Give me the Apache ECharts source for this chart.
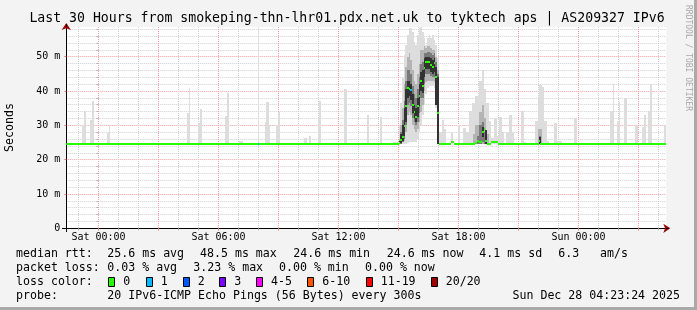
<!DOCTYPE html>
<html><head><meta charset="utf-8">
<script src="https://cdn.jsdelivr.net/npm/echarts@6/dist/echarts.min.js"></script>
<style>html,body{margin:0;padding:0;background:#f3f3f3;}#c{width:697px;height:310px;}</style>
</head><body><div id="c"></div>
<script>
// ---------------- DATA (hours relative to Sat 00:00, values in ms) ----------------
const timeRange = [-1.61, 28.39];
const valueMax = 58.65;
const hourTicks = [-1,0,1,2,3,4,5,6,7,8,9,10,11,12,13,14,15,16,17,18,19,20,21,22,23,24,25,26,27,28];
const majorHourTicks = [0,3,6,9,12,15,18,21,24,27];
const labelHours = [0,6,12,18,24];
const labelTexts = ['Sat 00:00','Sat 06:00','Sat 12:00','Sat 18:00','Sun 00:00'];
const yMajorTicks = [0,10,20,30,40,50];
const yTickLabels = ['0','10 m','20 m','30 m','40 m','50 m'];
const yMinorTicks = [2,4,6,8,12,14,16,18,22,24,26,28,32,34,36,38,42,44,46,48,52,54,56,58];

// light smoke spikes: [start h, end h, low ms, high ms]
const lightSmoke = [
 [-0.83,-0.71,24.5,30.1],[-0.71,-0.63,24.5,34.2],[-0.42,-0.33,24.5,31.5],[-0.33,-0.23,24.5,37.1],
 [0.41,0.51,24.5,27.7],[0.51,0.56,24.5,30.1],[4.41,4.54,24.5,33.7],[4.54,4.59,24.5,41.0],
 [4.99,5.08,24.5,30.6],[5.08,5.18,24.5,34.8],[6.33,6.44,24.5,32.8],[6.44,6.54,24.5,39.5],
 [7.04,7.24,24.5,25.3],[7.96,8.04,24.5,58.6],[8.30,8.38,24.5,31.0],[8.38,8.51,24.5,36.9],
 [8.51,8.58,24.5,30.0],[8.88,8.98,24.5,30.1],[8.98,9.08,24.5,33.8],[10.29,10.41,24.5,26.3],
 [10.54,10.63,24.5,26.8],[10.96,11.04,24.5,32.1],[11.04,11.13,24.5,37.0],[12.29,12.41,24.5,40.6],
 [13.43,13.54,24.5,33.0],[14.08,14.18,24.5,32.5],[14.71,15.00,24.5,25.2],
 [17.00,17.16,24.5,28.0],[17.16,17.29,24.5,31.5],[17.29,17.38,24.5,29.0],[17.63,17.71,24.5,28.2],
 [17.96,18.08,24.5,30.0],[18.21,18.38,24.5,29.2],[18.38,18.54,24.5,28.0],[18.54,18.68,24.5,34.3],
 [18.68,18.84,24.5,36.6],[18.84,19.01,24.5,38.5],[19.01,19.18,24.5,42.9],[19.18,19.29,24.5,46.1],
 [19.29,19.38,24.5,40.6],[19.38,19.51,24.5,36.6],[19.51,19.63,24.5,31.2],[19.63,19.79,24.5,26.4],
 [19.79,19.91,24.5,32.1],[19.91,20.04,24.5,27.0],[20.04,20.18,24.5,32.5],[20.18,20.29,24.5,28.0],
 [20.38,20.54,24.5,28.2],[20.54,20.68,24.5,33.0],[20.68,20.79,24.5,28.2],[21.13,21.29,24.5,34.2],
 [21.29,21.38,24.5,25.2],[21.83,21.96,24.5,31.2],[21.96,22.04,24.5,37.4],[22.04,22.18,24.5,41.8],
 [22.18,22.29,24.5,41.3],[22.29,22.41,24.5,31.2],[22.41,22.54,24.5,25.5],[22.79,22.91,24.5,30.6],
 [22.91,23.18,24.5,25.5],[23.79,23.91,24.5,32.1],[25.58,25.71,24.5,34.2],[25.71,25.79,24.5,42.0],
 [25.91,26.01,24.5,31.2],[26.01,26.08,24.5,36.7],[26.29,26.41,24.5,38.1],[26.84,26.96,24.5,30.1],
 [27.18,27.29,24.5,29.6],[27.29,27.38,24.5,33.0],[27.49,27.58,24.5,34.2],[27.58,27.68,24.5,42.0],
 [28.29,28.38,24.5,30.1]
];
// denser smoke patches outside the main event
const midSmoke = [[18.71,18.84,24.5,27.5],[18.84,19.01,24.5,30],[19.01,19.18,24.5,34],[19.18,19.29,24.5,36],[19.29,19.38,24.5,32],[19.38,19.54,24.5,27.5],[21.96,22.18,24.5,29]];
const darkSmoke = [[18.92,19.01,24.5,27],[19.01,19.18,24.6,30],[19.18,19.29,25,31],[19.29,19.38,24.6,28],[22.0,22.1,24.5,27]];
const darkestSmoke = [[19.17,19.25,26.5,29.5],[19.33,19.42,24.6,28.5],[22.04,22.12,24.6,26.5]];

// main event, 5-minute steps starting Sat 15:00
const eventStart = 15.0;
const eventStep = 1/12;
const eventMedian = [24.9,25.6,26.7,29.9,35.5,40.8,40.7,40.4,35.8,33.8,32.5,35.5,38.6,42.9,41.6,46.8,48.5,48.5,48.5,47.6,47.1,48.1,44.2,33.5];
const eventLoss   = [0,0,0,0,0,0,0,1,0,0,0,0,0,0,0,0,0,0,0,0,0,0,0,0];
const eventOuter = [[24.5,30],[24.5,36.5],[24.5,43.7],[24.5,50.5],[24.6,53.5],[24.8,56.4],[25,58.3],[25,58.3],[25,57.3],[25,54.4],[25,53.5],[26,56.4],[28,58.3],[30,58.6],[33,57.3],[36,55.5],[39,53.5],[41,55.5],[41.5,56.4],[41.5,55.5],[41.5,56.4],[41,55],[35,53.5],[24.6,49.6]];
const eventMid = [[24.6,26],[24.6,30],[25,35],[25.5,42],[28,47],[33,50],[34,51],[33,49],[30,46],[29,43],[28,42],[29,45],[31,48],[34,52],[36,52],[40,53],[42.5,52.5],[43,53],[43,53],[43,52.5],[43,52],[42.5,52],[37,50],[25,46]];
const eventDark = [[24.6,25.5],[24.6,28],[25,31.5],[26,37],[30,43],[36,46],[36.5,46],[35.5,45],[32,41.5],[31,39],[30,38],[31,40.5],[33.5,44],[38,48],[38,48.5],[42,51],[45,51],[45,51.5],[45,51.5],[44.5,51],[44,50.5],[44,51],[36,48.5],[24.6,45]];
const eventCore = [[24.6,25.5],[24.8,27.5],[25.5,30],[27,35],[31,40.5],[38,43],[38.5,43],[37.5,42],[33.5,39],[32,36],[31,35],[32.5,38],[35.5,42],[40,45.5],[39.5,46],[44,49.5],[46.5,50],[46.5,50],[46.5,50],[45.5,49.5],[45,49],[45.5,49.5],[36,47],[24.6,44]];

// median segments outside the event: [start h, end h, median ms, loss level]
const medianSegments = [
 [-1.61,7.96,24.6,0],[7.96,8.04,24.6,1],[8.04,15.0,24.6,0],
 [17.0,17.63,24.6,0],[17.63,17.77,25.2,0],[17.77,18.83,24.6,0],
 [18.83,18.92,24.9,0],[18.92,19.0,25.4,0],[19.0,19.17,25.0,0],[19.17,19.25,28.0,0],[19.25,19.33,29.0,0],[19.33,19.42,25.3,0],
 [19.42,19.6,24.6,0],[19.6,19.96,25.2,0],[19.96,22.0,24.6,0],[22.0,22.08,25.3,0],[22.08,28.39,24.6,0]
];

const lossLabels = ['0','1','2','3','4-5','6-10','11-19','20/20'];
const lossColors = ['#26ff00','#00b8ff','#0059ff','#7e00ff','#ff00ff','#ff5500','#ff0000','#a00000'];

const titleText = 'Last 30 Hours from smokeping-thn-lhr01.pdx.net.uk to tyktech aps | AS209327 IPv6';
const rttStats = ['25.6 ms avg','48.5 ms max','24.6 ms min','24.6 ms now','4.1 ms sd','6.3','am/s'];
const lossStats = ['0.03 % avg','3.23 % max','0.00 % min','0.00 % now'];
const probeText = '20 IPv6-ICMP Echo Pings (56 Bytes) every 300s';
const dateText = 'Sun Dec 28 04:23:24 2025';

// ---------------- BUILD ----------------
function stepsToRects(arr){ return arr.map((p,k)=>[eventStart+k*eventStep, eventStart+(k+1)*eventStep, p[0], p[1]]); }
const eventMedianRects = eventMedian.map((v,k)=>[eventStart+k*eventStep, eventStart+(k+1)*eventStep, v, eventLoss[k]]);
const allMedian = medianSegments.concat(eventMedianRects);

function smokeRender(color){
  return function(params, api){
    const a = api.coord([api.value(0), api.value(3)]);
    const b = api.coord([api.value(1), api.value(2)]);
    const x0 = Math.round(a[0]), x1 = Math.max(Math.round(b[0]), x0+1);
    const y0 = Math.round(a[1]), y1 = Math.round(b[1]);
    const cs = params.coordSys;
    const shape = echarts.graphic.clipRectByRect({x:x0,y:y0,width:x1-x0,height:y1-y0},{x:cs.x,y:cs.y,width:cs.width,height:cs.height});
    return shape && {type:'rect', shape:shape, style:{fill:color}};
  };
}
function medianRender(params, api){
  const a = api.coord([api.value(0), api.value(2)]);
  const b = api.coord([api.value(1), api.value(2)]);
  const x0 = Math.round(a[0]), x1 = Math.max(Math.round(b[0]), x0+1);
  const yc = Math.round(a[1]);
  const cs = params.coordSys;
  const shape = echarts.graphic.clipRectByRect({x:x0,y:yc-1,width:x1-x0,height:2},{x:cs.x,y:cs.y,width:cs.width,height:cs.height});
  return shape && {type:'rect', shape:shape, style:{fill: lossColors[api.value(3)]}};
}
function smokeSeries(data, color){
  return {type:'custom', xAxisIndex:0, yAxisIndex:0, data:data, renderItem:smokeRender(color), silent:true, clip:true};
}

const MONO = '"DejaVu Sans Mono", monospace';
const xBase = {type:'value', min:timeRange[0], max:timeRange[1], gridIndex:0, position:'bottom', offset:0};
const yBase = {type:'value', min:0, max:valueMax, gridIndex:0, position:'left', offset:0};

const graphics = [];
function txt(x, y, s, size, opts){
  graphics.push(Object.assign({type:'text', x:x, y:y, silent:true, style:Object.assign({text:s, fontFamily:MONO, fontSize:size, fill:'#000', align:'left', verticalAlign:'middle'}, (opts&&opts.style)||{})}, (opts&&opts.el)||{}));
}
// frame
graphics.push({type:'rect', shape:{x:694,y:0,width:3,height:310}, style:{fill:'#a9a9a9'}, silent:true});
graphics.push({type:'rect', shape:{x:0,y:307,width:697,height:3}, style:{fill:'#a9a9a9'}, silent:true});
// axis line extensions (the "+" at the origin and the run-out to the arrow)
graphics.push({type:'line', shape:{x1:62,y1:228.5,x2:66,y2:228.5}, style:{stroke:'#000',lineWidth:1}, silent:true, z:10});
graphics.push({type:'line', shape:{x1:66.5,y1:228,x2:66.5,y2:232}, style:{stroke:'#000',lineWidth:1}, silent:true, z:10});
graphics.push({type:'line', shape:{x1:666,y1:228.5,x2:669,y2:228.5}, style:{stroke:'#000',lineWidth:1}, silent:true, z:10});
graphics.push({type:'line', shape:{x1:66.5,y1:27,x2:66.5,y2:24}, style:{stroke:'#000',lineWidth:1}, silent:true, z:10});
txt(347, 19, titleText, 13.2, {style:{align:'center'}});
txt(10, 127.5, 'Seconds', 11.6, {style:{align:'center'}, el:{rotation:Math.PI/2}});
txt(688, 5, 'RRDTOOL / TOBI OETIKER', 8, {style:{fill:'#a8a8a8', align:'left'}, el:{rotation:-Math.PI/2}});
const LF = 11.6;
txt(16, 254.3, 'median rtt:', LF);
[107.3,200,293.3,386.7,479.3,558.3,600].forEach((x,i)=>txt(x,254.3,rttStats[i],LF));
txt(16, 268.3, 'packet loss:', LF);
[107.3,193.3,279,365].forEach((x,i)=>txt(x,268.3,lossStats[i],LF));
txt(16, 282.3, 'loss color:', LF);
const boxX = [108.3,145.7,182.7,219.3,256,307.3,365.7,430.7];
lossLabels.forEach((l,i)=>{
  graphics.push({type:'rect', shape:{x:Math.round(boxX[i])+0.5, y:277.5, width:6, height:9}, style:{fill:lossColors[i], stroke:'#000', lineWidth:1}, silent:true});
  txt(boxX[i]+15, 282.3, l, LF);
});
txt(16, 296, 'probe:', LF);
txt(107.3, 296, probeText, LF);
txt(680, 296, dateText, LF, {style:{align:'right'}});

const option = {
  animation:false,
  backgroundColor:'#f3f3f3',
  grid:{left:66.3, top:27, width:600, height:201.3, show:true, backgroundColor:'#ffffff', borderWidth:0, containLabel:false, outerBoundsMode:'none'},
  xAxis:[
    Object.assign({}, xBase, {axisLine:{show:true,onZero:false,lineStyle:{color:'#000',width:1}}, axisTick:{show:true,length:2,customValues:hourTicks,lineStyle:{color:'#b0b0b0'}}, axisLabel:{show:false}, splitLine:{show:true,lineStyle:{color:'#d0d0d0',width:1,type:[1,1]}}}),
    Object.assign({}, xBase, {axisLine:{show:false}, axisTick:{show:true,length:2,customValues:majorHourTicks,lineStyle:{color:'#f08080'}}, axisLabel:{show:false}, splitLine:{show:true,lineStyle:{color:'#f4a0a0',width:1,type:[1,1]}}}),
    Object.assign({}, xBase, {axisLine:{show:false}, axisTick:{show:false,customValues:labelHours}, axisLabel:{show:true,customValues:labelHours,margin:4,fontFamily:MONO,fontSize:10,color:'#000',formatter:function(v){const i=labelHours.indexOf(Math.round(v));return i>=0?labelTexts[i]:'';}}, splitLine:{show:false}}),
    Object.assign({}, xBase, {axisLine:{show:true,onZero:false,symbol:['none','arrow'],symbolSize:[7,7],symbolOffset:[0,4],lineStyle:{color:'#a00000',width:0}}, axisTick:{show:false}, axisLabel:{show:false}, splitLine:{show:false}})
  ],
  yAxis:[
    Object.assign({}, yBase, {axisLine:{show:false}, axisTick:{show:true,length:2,customValues:yMinorTicks,lineStyle:{color:'#b0b0b0'}}, axisLabel:{show:false}, splitLine:{show:true,lineStyle:{color:'#d0d0d0',width:1,type:[1,1]}}}),
    Object.assign({}, yBase, {axisLine:{show:true,onZero:false,lineStyle:{color:'#000',width:1}}, axisTick:{show:true,length:2,customValues:yMajorTicks,lineStyle:{color:'#f08080'}}, axisLabel:{show:true,customValues:yMajorTicks,margin:6,fontFamily:MONO,fontSize:10,color:'#000',formatter:function(v){const i=yMajorTicks.indexOf(Math.round(v));return i>=0?yTickLabels[i]:'';}}, splitLine:{show:true,lineStyle:{color:'#f4a0a0',width:1,type:[1,1]}}}),
    Object.assign({}, yBase, {axisLine:{show:true,onZero:false,symbol:['none','arrow'],symbolSize:[7,7],symbolOffset:[0,4],lineStyle:{color:'#a00000',width:0}}, axisTick:{show:false}, axisLabel:{show:false}, splitLine:{show:false}})
  ],
  series:[
    smokeSeries(lightSmoke,'#dddddd'),
    smokeSeries(stepsToRects(eventOuter),'#dddddd'),
    smokeSeries(midSmoke,'#b4b4b4'),
    smokeSeries(stepsToRects(eventMid),'#b4b4b4'),
    smokeSeries(darkSmoke,'#7a7a7a'),
    smokeSeries(stepsToRects(eventDark),'#7a7a7a'),
    smokeSeries(darkestSmoke,'#323232'),
    smokeSeries(stepsToRects(eventCore),'#323232'),
    {type:'custom', xAxisIndex:0, yAxisIndex:0, data:allMedian, renderItem:medianRender, silent:true, clip:true, z:5}
  ],
  graphic:graphics
};
const chart = echarts.init(document.getElementById('c'), null, {renderer:'canvas', width:697, height:310});
chart.setOption(option);
</script></body></html>
